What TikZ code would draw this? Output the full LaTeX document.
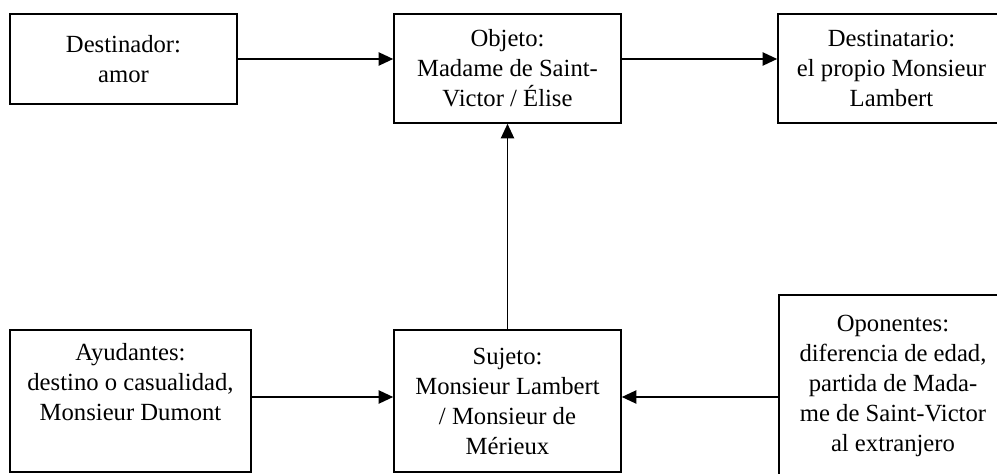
\documentclass[tikz,border=0pt]{standalone}
\usepackage{fontspec}
\setmainfont{Liberation Serif}
\usetikzlibrary{arrows.meta}
\begin{document}
\begin{tikzpicture}[x=0.75pt,y=-0.75pt,
    caja/.style={draw,line width=1.2pt,align=center,inner sep=2pt,
      font=\fontsize{18.5}{22.5}\selectfont},
    flecha/.style={line width=1.2pt,-{Triangle[length=11pt,width=10pt]}}]
    \useasboundingbox (0,0) rectangle (997,474);
    % Destinador
    \node[caja,minimum width=170.25pt,minimum height=67.5pt] (dest) at (123.5,59) {Destinador:\\amor};
    % Objeto
    \node[caja,minimum width=170.25pt,minimum height=81.75pt] (obj) at (507.5,68.5) {Objeto:\\Madame de Saint-\\Victor / Élise};
    % Destinatario
    \node[caja,minimum width=170.25pt,minimum height=81.75pt] (destin) at (891.5,68.5) {Destinatario:\\el propio Monsieur\\Lambert};
    % Ayudantes
    \node[caja,minimum width=180.75pt,minimum height=106.5pt] (ayud) at (130.5,401) {Ayudantes:\\destino o casualidad,\\Monsieur Dumont\\\strut};
    % Sujeto
    \node[caja,minimum width=170.25pt,minimum height=106.5pt] (suj) at (507.5,401) {Sujeto:\\Monsieur Lambert\\/ Monsieur de\\Mérieux};
    % Oponentes
    \node[caja,minimum width=171pt,minimum height=153pt] (opon) at (893,397) {Oponentes:\\diferencia de edad,\\partida de Mada-\\me de Saint-Victor\\al extranjero\\[-8pt]\strut};
    % Flechas superiores
    \draw[flecha] (dest.east) -- (dest.east -| obj.west);
    \draw[flecha] (dest.east -| obj.east) -- (dest.east -| destin.west);
    % Sujeto hacia objeto
    \draw[flecha] (suj.north) -- (obj.south);
    % Ayudantes y oponentes
    \draw[flecha] (ayud.east |- opon.west) -- (opon.west -| suj.west);
    \draw[flecha] (opon.west) -- (opon.west -| suj.east);
\end{tikzpicture}
\end{document}
